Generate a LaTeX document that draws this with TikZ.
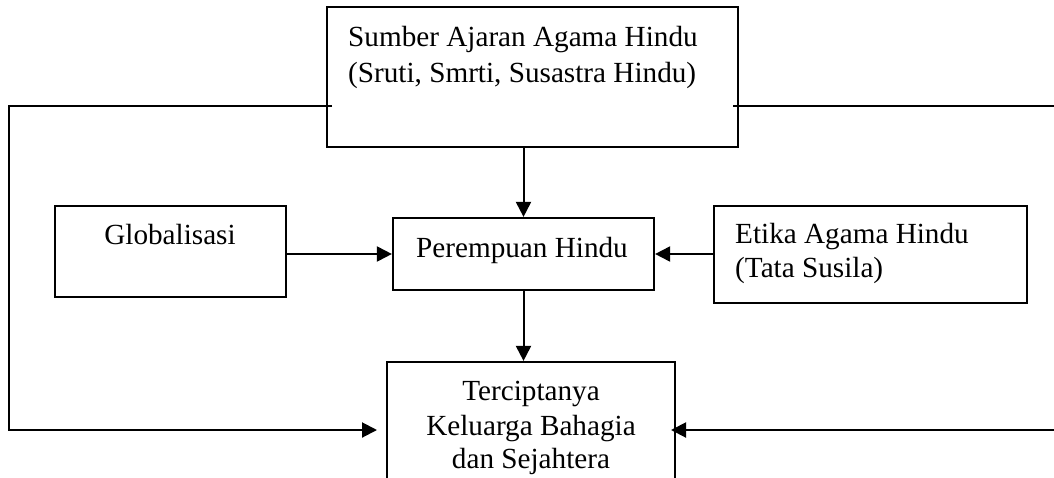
\documentclass[tikz,border=0pt]{standalone}
\usepackage{fontspec}
\setmainfont{Liberation Serif}
\usetikzlibrary{arrows.meta}
\begin{document}
\begin{tikzpicture}[x=1pt,y=-1pt,
  box/.style={draw=black,line width=2.2pt,rectangle,inner sep=0pt},
  lbl/.style={inner sep=0pt,font=\fontsize{29.2}{35}\selectfont},
  conn/.style={line width=2pt},
  arr/.style={line width=2pt,-{Triangle[length=15pt,width=15pt]}}]
\useasboundingbox (0,0) rectangle (1054,477);
\clip (0,0) rectangle (1054,477);
% boxes
\node[box,minimum width=411pt,minimum height=140pt] (top) at (532.5,77) {};
\node[box,minimum width=231pt,minimum height=91pt] (glob) at (170.5,251.5) {};
\node[box,minimum width=313pt,minimum height=97pt] (etika) at (870.5,254.5) {};
\node[box,minimum width=261pt,minimum height=72pt] (per) at (523.5,254) {};
\node[box,minimum width=288pt,minimum height=140pt] (bot) at (531,432) {};
% texts
\node[lbl,anchor=base west] (t1a) at (348,46) {Sumber Ajaran Agama Hindu};
\node[lbl,anchor=base west] (t1b) at (348,82) {(Sruti, Smrti, Susastra Hindu)};
\node[lbl,anchor=base] (t2) at (170,244) {Globalisasi};
\node[lbl,anchor=base west] (t3a) at (735,243) {Etika Agama Hindu};
\node[lbl,anchor=base west] (t3b) at (735,277) {(Tata Susila)};
\node[lbl,anchor=base] (t4) at (522,257) {Perempuan Hindu};
\node[lbl,anchor=base] (t5a) at (531,400) {Terciptanya};
\node[lbl,anchor=base] (t5b) at (531,435) {Keluarga Bahagia};
\node[lbl,anchor=base] (t5c) at (531,468) {dan Sejahtera};
% coordinates for connector corners
\coordinate (ls) at (332,106);
\coordinate (lc1) at (9,106);
\coordinate (lc2) at (9,430);
\coordinate (le) at (377,430);
\coordinate (rs) at (733,106);
\coordinate (rc1) at (1060,106);
\coordinate (rc2) at (1060,430);
\coordinate (re) at (671,430);
% connectors
\draw[arr] (top.south -| per.north) -- (per.north);
\draw[arr] (per.south) -- (per.south |- bot.north);
\draw[arr] (glob.east |- per.west) -- (per.west);
\draw[arr] (etika.west |- per.east) -- (per.east);
\draw[arr] (ls) -- (lc1) -- (lc2) -- (le);
\draw[arr] (rs) -- (rc1) -- (rc2) -- (re);
\end{tikzpicture}
\end{document}
